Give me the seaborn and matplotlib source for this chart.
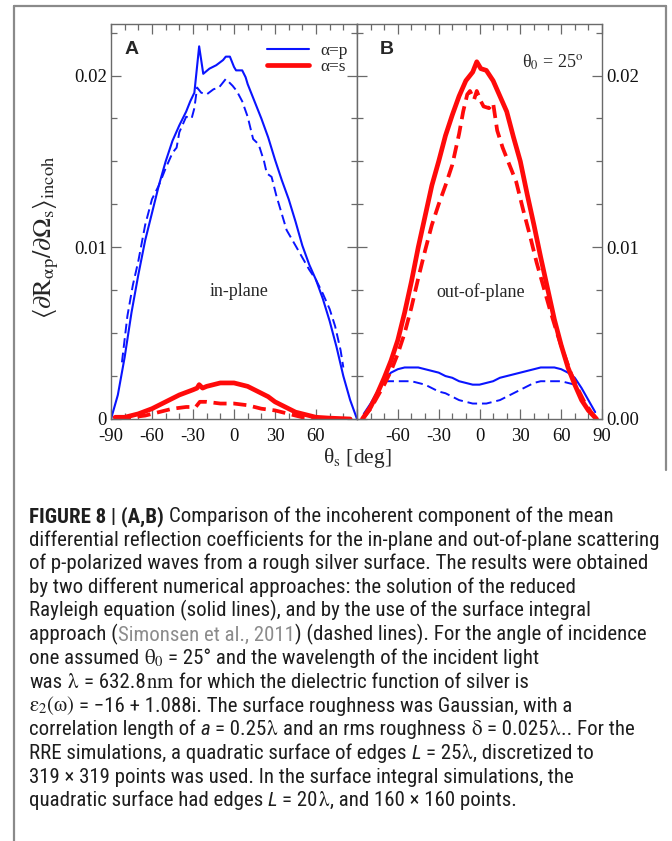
import matplotlib
matplotlib.use("Agg")
import matplotlib.pyplot as plt
import seaborn as sns
import pandas as pd
from matplotlib import font_manager
from matplotlib.ticker import FixedLocator, MultipleLocator
from matplotlib.lines import Line2D

# ---------------- data ----------------
# Panel A (in-plane)
thA_p_rre = [-90, -85, -80, -75, -70, -65, -60, -55, -50, -45, -40, -35, -32, -29, -25.5, -22.5,
             -18, -13, -8, -6, -3, 0, 1.5, 6, 8.5, 10, 15, 20, 25, 30, 35, 40, 45, 50, 55, 60,
             65, 70, 75, 80, 85, 90]
RA_p_rre = [0.0, 0.0014, 0.0036, 0.0062, 0.0084, 0.0104, 0.0120, 0.0136, 0.0150, 0.0162, 0.0171,
            0.0179, 0.0185, 0.0190, 0.0217, 0.0201, 0.0204, 0.0206, 0.0209, 0.0211, 0.0211, 0.0205,
            0.0203, 0.0203, 0.0199, 0.0195, 0.0185, 0.0175, 0.0164, 0.0151, 0.0139, 0.0128, 0.0115,
            0.0101, 0.0090, 0.0081, 0.0070, 0.0057, 0.0042, 0.0025, 0.0011, 0.0]

thA_p_sia = [-82, -78, -74, -70, -65, -60, -55, -50, -45, -42, -40, -35, -31, -29, -27, -24, -20,
             -15, -11, -6, -1, 2, 6, 10, 14, 18, 22, 24, 27.5, 31, 38.5, 45, 50, 55, 60, 65, 70,
             74, 78, 80]
RA_p_sia = [0.0033, 0.0060, 0.0078, 0.0092, 0.0113, 0.0128, 0.0136, 0.0146, 0.0155, 0.0158, 0.0167,
            0.0176, 0.0175, 0.0181, 0.0193, 0.0190, 0.0189, 0.0192, 0.0193, 0.0198, 0.0194, 0.0191,
            0.0185, 0.0176, 0.0163, 0.0160, 0.0150, 0.0143, 0.0141, 0.0130, 0.0110, 0.0101, 0.0094,
            0.0087, 0.0081, 0.0073, 0.0064, 0.0054, 0.0040, 0.0030]

thA_s_rre = [-87, -80, -70, -60, -50, -40, -30, -27, -25.5, -23, -20, -15, -10, -5, 0, 5, 10, 15,
             20, 25, 30, 35, 40, 45, 50, 60, 70, 85]
RA_s_rre = [0.0001, 0.0001, 0.0003, 0.0006, 0.0010, 0.0014, 0.0017, 0.0018, 0.0020, 0.0018, 0.0019,
            0.0020, 0.0021, 0.0021, 0.0021, 0.0020, 0.0019, 0.0017, 0.0015, 0.0013, 0.0010, 0.0008,
            0.0006, 0.0004, 0.0003, 0.0001, 0.00005, 0.0]

thA_s_sia = [-85, -75, -65, -55, -45, -35, -28, -25, -20, -10, 0, 10, 20, 30, 40, 50, 60, 75]
RA_s_sia = [0.0, 0.0001, 0.0002, 0.0004, 0.0006, 0.0007, 0.0007, 0.0010, 0.0010, 0.0009, 0.0009,
            0.0008, 0.0006, 0.0005, 0.0003, 0.0001, 0.00005, 0.0]

# Panel B (out-of-plane)
thB_s_rre = [-86, -80, -75, -70, -65, -60, -55, -50, -45, -40, -35, -30, -25, -20, -15, -10, -5,
             -2, 1, 5, 10, 15, 20, 25, 30, 35, 40, 45, 50, 55, 60, 65, 70, 75, 80, 86]
RB_s_rre = [0.0, 0.0007, 0.0015, 0.0024, 0.0034, 0.0046, 0.0062, 0.0080, 0.0100, 0.0118, 0.0136,
            0.0150, 0.0165, 0.0177, 0.0188, 0.0197, 0.0202, 0.0208, 0.0204, 0.0203, 0.0197, 0.0188,
            0.0179, 0.0164, 0.0150, 0.0131, 0.0113, 0.0094, 0.0076, 0.0058, 0.0043, 0.0030, 0.0020,
            0.0011, 0.0005, 0.0]

thB_s_sia = [-86, -80, -75, -70, -65, -60, -55, -50, -45, -40, -35, -30, -25, -20, -15, -12, -9,
             -7, -4, -2, 1, 3, 7, 10, 13, 17, 22, 27, 32, 37, 42, 47, 52, 57, 62, 67, 72, 77, 82, 86]
RB_s_sia = [0.0, 0.0006, 0.0013, 0.0020, 0.0028, 0.0038, 0.0050, 0.0065, 0.0082, 0.0098, 0.0113,
            0.0125, 0.0136, 0.0148, 0.0166, 0.0179, 0.0189, 0.0191, 0.0186, 0.0191, 0.0185, 0.0182,
            0.0181, 0.0184, 0.0168, 0.0158, 0.0148, 0.0138, 0.0122, 0.0107, 0.0091, 0.0077, 0.0063,
            0.0050, 0.0038, 0.0027, 0.0018, 0.0010, 0.0004, 0.0]

thB_p_rre = [-85, -80, -75, -70, -65, -60, -55, -50, -45, -40, -35, -30, -25, -20, -15, -10, -5, 0,
             5, 10, 15, 20, 25, 30, 35, 40, 45, 50, 55, 60, 65, 70, 75, 80, 85]
RB_p_rre = [0.0003, 0.0009, 0.0016, 0.0023, 0.0027, 0.0029, 0.0030, 0.0030, 0.0030, 0.0029, 0.0028,
            0.0027, 0.0025, 0.0024, 0.0022, 0.0021, 0.0020, 0.0020, 0.0021, 0.0022, 0.0024, 0.0025,
            0.0026, 0.0027, 0.0028, 0.0029, 0.0030, 0.0030, 0.0030, 0.0029, 0.0027, 0.0024, 0.0018,
            0.0011, 0.0004]

thB_p_sia = [-70, -65, -60, -55, -50, -45, -40, -35, -30, -25, -20, -15, -10, -5, 0, 5, 10, 15, 20,
             25, 30, 35, 40, 45, 50, 55, 60, 65, 70]
RB_p_sia = [0.0022, 0.0022, 0.0022, 0.0022, 0.0022, 0.0021, 0.0020, 0.0018, 0.0016, 0.0015, 0.0013,
            0.0011, 0.0010, 0.0009, 0.0009, 0.0009, 0.0010, 0.0011, 0.0013, 0.0015, 0.0017, 0.0019,
            0.0021, 0.0022, 0.0022, 0.0022, 0.0022, 0.0021, 0.0020]

# ticks / labels
x_ticks = [-90, -60, -30, 0, 30, 60, 90]
x_labels_A = ["-90", "-60", "-30", "0", "30", "60", ""]
x_labels_B = ["", "-60", "-30", "0", "30", "60", "90"]
y_ticks = [0.0, 0.01, 0.02]
y_labels_A = ["0", "0.01", "0.02"]
y_labels_B = ["0.00", "0.01", "0.02"]
legend_labels = ["α=p", "α=s"]

caption_lines = [
    [("FIGURE 8 | (A,B)", "b"), (" Comparison of the incoherent component of the mean", "n")],
    [("differential reflection coefficients for the in-plane and out-of-plane scattering", "n")],
    [("of p-polarized waves from a rough silver surface. The results were obtained", "n")],
    [("by two different numerical approaches: the solution of the reduced", "n")],
    [("Rayleigh equation (solid lines), and by the use of the surface integral", "n")],
    [("approach (", "n"), ("Simonsen et al., 2011", "g"), (") (dashed lines). For the angle of incidence", "n")],
    [("one assumed ", "n"), (r"$\mathrm{\theta}_0$", "m"), (" = 25° and the wavelength of the incident light", "n")],
    [("was ", "n"), (r"$\mathrm{\lambda}$", "m"), (" = 632.8", "n"), (r"$\mathrm{nm}$", "m"),
     (" for which the dielectric function of silver is", "n")],
    [(r"$\mathrm{\varepsilon}_2(\mathrm{\omega})$", "m"),
     (" = −16 + 1.088i. The surface roughness was Gaussian, with a", "n")],
    [("correlation length of ", "n"), ("a", "i"), (" = 0.25", "n"), (r"$\mathrm{\lambda}$", "m"),
     (" and an rms roughness ", "n"), (r"$\mathrm{\delta}$", "m"), (" = 0.025", "n"),
     (r"$\mathrm{\lambda}$", "m"), (".. For the", "n")],
    [("RRE simulations, a quadratic surface of edges ", "n"), ("L", "i"), (" = 25", "n"),
     (r"$\mathrm{\lambda}$", "m"), (", discretized to", "n")],
    [("319 × 319 points was used. In the surface integral simulations, the", "n")],
    [("quadratic surface had edges ", "n"), ("L", "i"), (" = 20", "n"), (r"$\mathrm{\lambda}$", "m"),
     (", and 160 × 160 points.", "n")],
]

# ---------------- style ----------------
sns.set_style("white")
plt.rcParams["font.family"] = ["Liberation Serif", "DejaVu Serif"]
plt.rcParams["mathtext.fontset"] = "stix"

W, H = 672, 841
fig = plt.figure(figsize=(W / 100, H / 100), dpi=100)
fig.patch.set_facecolor("white")

axA = fig.add_axes([111 / W, 1 - 419 / H, 246 / W, 395 / H])
axB = fig.add_axes([357 / W, 1 - 419 / H, 245 / W, 395 / H])

BLUE = "#0a14ff"
RED = "#ff0a0a"
SPINE = "#6a6a6a"


def draw(ax, th, val, color, lw, dashes=None, label=None):
    df = pd.DataFrame({"theta": th, "R": val})
    sns.lineplot(data=df, x="theta", y="R", ax=ax, color=color, lw=lw, sort=False,
                 estimator=None, label=label, legend=False)
    line = ax.lines[-1]
    if dashes is not None:
        line.set_dashes(dashes)
    line.set_solid_joinstyle("round")


draw(axA, thA_p_rre, RA_p_rre, BLUE, 1.5, label=legend_labels[0])
draw(axA, thA_p_sia, RA_p_sia, BLUE, 1.4, dashes=(5, 2.5))
draw(axA, thA_s_rre, RA_s_rre, RED, 3.4, label=legend_labels[1])
draw(axA, thA_s_sia, RA_s_sia, RED, 2.7, dashes=(3.5, 1.8))

draw(axB, thB_p_rre, RB_p_rre, BLUE, 1.5)
draw(axB, thB_p_sia, RB_p_sia, BLUE, 1.4, dashes=(5, 2.5))
draw(axB, thB_s_rre, RB_s_rre, RED, 3.4)
draw(axB, thB_s_sia, RB_s_sia, RED, 2.7, dashes=(3.5, 1.8))

for ax in (axA, axB):
    ax.set_xlim(-90, 90)
    ax.set_ylim(0, 0.023)
    ax.set_xlabel("")
    ax.set_ylabel("")
    ax.xaxis.set_major_locator(FixedLocator(x_ticks))
    ax.xaxis.set_minor_locator(MultipleLocator(10))
    ax.yaxis.set_major_locator(FixedLocator(y_ticks))
    ax.yaxis.set_minor_locator(MultipleLocator(0.0025))
    ax.tick_params(which="both", direction="in", top=True, bottom=True, left=True, right=True,
                   color=SPINE, width=0.9, labelsize=13.5, labelcolor="#111111")
    ax.tick_params(which="major", length=7)
    ax.tick_params(which="minor", length=4)
    ax.tick_params(axis="x", pad=6.5)
    ax.tick_params(axis="y", pad=3)
    for sp in ax.spines.values():
        sp.set_color(SPINE)
        sp.set_linewidth(1.0)
    ax.set_facecolor("white")
    ax.grid(False)

axA.set_xticklabels(x_labels_A)
axB.set_xticklabels(x_labels_B)
axA.set_yticklabels(y_labels_A)
axB.set_yticklabels(y_labels_B)
axA.tick_params(axis="y", labelleft=True, labelright=False)
axB.tick_params(axis="y", labelleft=False, labelright=True)

# panel letters and annotations
axA.text((132 - 111) / 246, (419 - 50) / 395, "A", transform=axA.transAxes, ha="center",
         va="center", fontsize=14, fontweight="bold", family="Liberation Sans")
axB.text((387 - 357) / 245, (419 - 50) / 395, "B", transform=axB.transAxes, ha="center",
         va="center", fontsize=14, fontweight="bold", family="Liberation Sans")
axA.text((239 - 111) / 246, (419 - 292) / 395, "in-plane", transform=axA.transAxes,
         ha="center", va="center", fontsize=13)
axB.text((481 - 357) / 245, (419 - 292) / 395, "out-of-plane", transform=axB.transAxes,
         ha="center", va="center", fontsize=13)
axB.text((553 - 357) / 245, (419 - 62) / 395, r"θ$_0$ = 25$^{\mathrm{o}}$",
         transform=axB.transAxes, ha="center", va="center", fontsize=13)

leg = axA.legend(loc="upper right", bbox_to_anchor=(0.962, 0.953), frameon=False, fontsize=12.5,
                 handlelength=2.4, handletextpad=0.65, labelspacing=0.0, borderpad=0,
                 borderaxespad=0)

fig.text(357 / W, 1 - 458 / H, r"θ$_{\mathrm{s}}$ [deg]", ha="center", va="center",
         fontsize=15.5)
fig.text(46 / W, 1 - 237 / H,
         r"$\langle\mathrm{\partial R}_{\mathrm{\alpha p}}/\mathrm{\partial\Omega}_{\mathrm{s}}\rangle_{\mathrm{incoh}}$",
         ha="center", va="center", rotation=90, fontsize=19)

# outer frame
BORDER = "#8a8a8a"
fig.add_artist(Line2D([13.5 / W, 13.5 / W], [0, 1 - 6 / H], transform=fig.transFigure,
                      color=BORDER, lw=1.6))
fig.add_artist(Line2D([13.5 / W, 665.5 / W], [1 - 6 / H, 1 - 6 / H], transform=fig.transFigure,
                      color=BORDER, lw=1.6))
fig.add_artist(Line2D([665.5 / W, 665.5 / W], [1 - 6 / H, 1 - 470 / H], transform=fig.transFigure,
                      color=BORDER, lw=1.6))

# ---------------- caption ----------------
names = {f.name for f in font_manager.fontManager.ttflist}
cap_family = "Liberation Sans"
for cand in ["Liberation Sans Narrow", "Roboto Condensed", "Open Sans Condensed",
             "Noto Sans Condensed", "Liberation Sans"]:
    if cand in names:
        cap_family = cand
        break
fam = [cap_family, "DejaVu Sans"]
CAP_COLOR = "#1e1e1e"

renderer = fig.canvas.get_renderer()
probe = fig.text(0, 0, "".join(s for s, _ in caption_lines[1]), fontsize=10, family=fam)
w10 = probe.get_window_extent(renderer).width
probe.remove()
cap_size = min(15.0, 10 * 626 / w10)

p1 = fig.text(0, 0, "a a", fontsize=cap_size, family=fam)
p2 = fig.text(0, 0, "aa", fontsize=cap_size, family=fam)
space_w = p1.get_window_extent(renderer).width - p2.get_window_extent(renderer).width
p1.remove()
p2.remove()


def props(kind):
    if kind == "b":
        return dict(family=fam, fontweight="bold", color=CAP_COLOR)
    if kind == "g":
        return dict(family=fam, color="#8c8c8c")
    if kind == "i":
        return dict(family=fam, style="italic", color=CAP_COLOR)
    if kind == "m":
        return dict(color=CAP_COLOR)
    return dict(family=fam, color=CAP_COLOR)


x0 = 29
base0 = 522
step = 23.7
for i, segs in enumerate(caption_lines):
    y = base0 + i * step
    x = x0
    for text, kind in segs:
        lead = len(text) - len(text.lstrip(" "))
        trail = len(text) - len(text.rstrip(" "))
        core = text.strip(" ")
        x += lead * space_w
        t = fig.text(x / W, 1 - y / H, core, fontsize=cap_size, ha="left", va="baseline",
                     **props(kind))
        x += t.get_window_extent(renderer).width
        x += trail * space_w

fig.savefig("out.png", dpi=100, facecolor="white")
